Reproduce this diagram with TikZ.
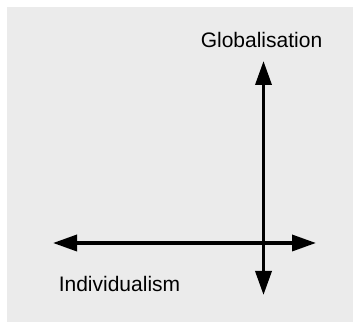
\documentclass[tikz,border=0pt]{standalone}
\usepackage{fontspec}
\setmainfont{Liberation Sans}
\usetikzlibrary{arrows.meta}
\definecolor{bggrey}{HTML}{EBEBEB}
\tikzset{
  axis/.style={line width=3.5pt, {Triangle[length=24pt,width=16pt]}-{Triangle[length=24pt,width=16pt]}},
  lbl/.style={font=\fontsize{21}{25}\selectfont, anchor=base, inner sep=0pt}
}
\begin{document}
\begin{tikzpicture}[x=1pt,y=1pt]
\useasboundingbox (0,0) rectangle (353,323);
\fill[bggrey] (7,1) rectangle (353,316);
\coordinate (vtop) at (263.5,262);
\coordinate (vbot) at (263.5,28);
\coordinate (hleft) at (53,80);
\coordinate (hright) at (316,80);
\draw[axis] (vbot) -- (vtop);
\draw[axis] (hleft) -- (hright);
\node[lbl] (glob) at (261.5,275) {Globalisation};
\node[lbl] (indiv) at (119.5,31) {Individualism};
\end{tikzpicture}
\end{document}
